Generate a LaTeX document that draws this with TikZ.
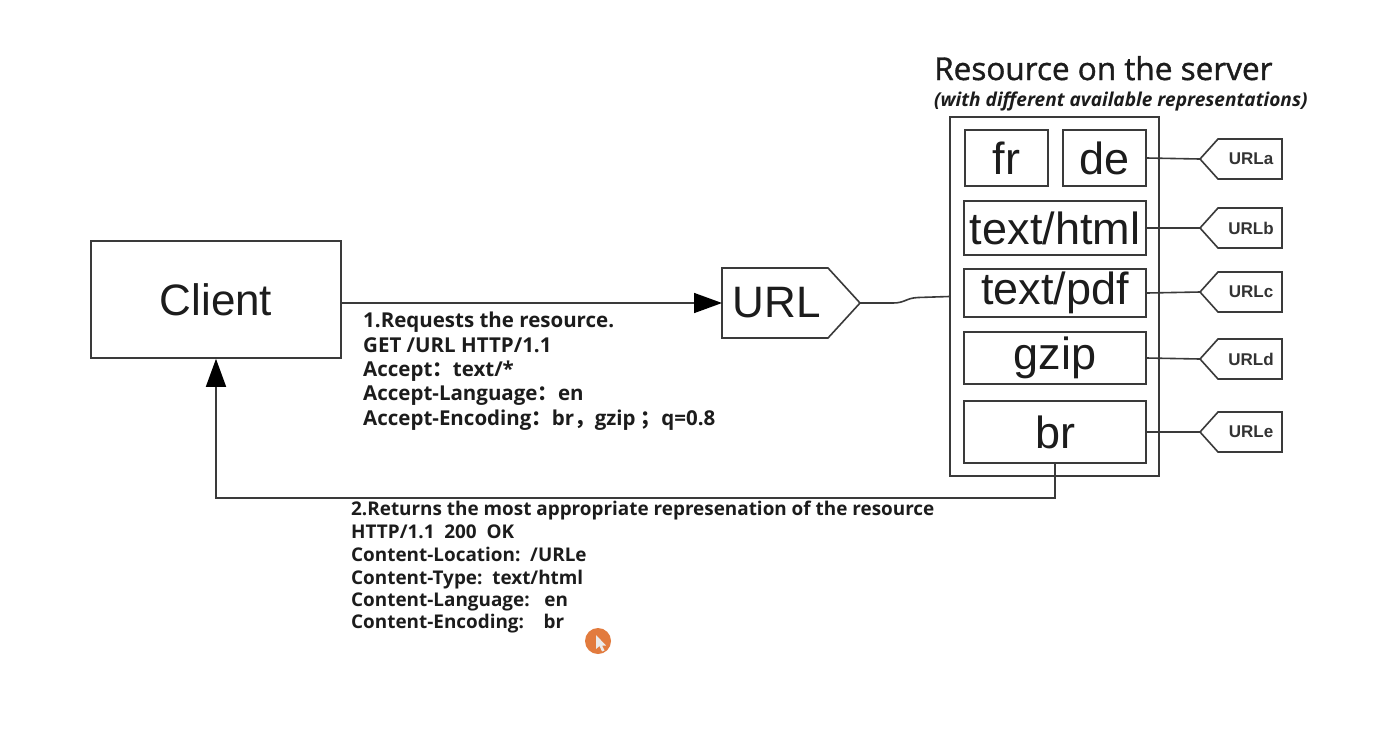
\documentclass[tikz,border=0pt]{standalone}
\usepackage{fontspec}
\setmainfont{Liberation Sans}
\newfontfamily\osans{Open Sans}
\newfontfamily\osanstitle[FakeBold=1.2]{Open Sans}
\newfontfamily\cjk{Noto Sans CJK SC}
\usetikzlibrary{arrows.meta}
\definecolor{linec}{HTML}{3A3A3A}
\definecolor{txt}{HTML}{1C1C1C}
\definecolor{tagc}{HTML}{333333}
\definecolor{dotc}{HTML}{E27B3E}
\begin{document}
\begin{tikzpicture}[x=1pt,y=-1pt,
  ln/.style={draw=linec, line width=1.6pt},
  box/.style={ln, rectangle, inner sep=0pt, font=\fontsize{45}{50}\selectfont, text=txt},
  arr/.style={ln, -{Triangle[length=28pt,width=20pt,color=black]}},
  req/.style={anchor=base west, inner sep=0pt, font=\osans\bfseries\fontsize{20.5}{24}\selectfont, text=txt},
  resp/.style={anchor=base west, inner sep=0pt, font=\osans\bfseries\fontsize{18.9}{22}\selectfont, text=txt},
  taglbl/.style={inner sep=0pt, font=\bfseries\fontsize{17}{20}\selectfont, text=tagc},
]
\useasboundingbox (0,0) rectangle (1386,740);
\fill[white] (0,0) rectangle (1386,740);

% client
\node[box, font=\fontsize{44}{48}\selectfont, minimum width=250pt, minimum height=117pt] (client) at (216,299.5) {Client};

% URL
\draw[ln] (722,268) -- (828,268) -- (860,303) -- (828,338) -- (722,338) -- cycle;
\node[inner sep=0pt, font=\fontsize{44}{48}\selectfont, text=txt] (url) at (777,303) {URL};
\coordinate (urlW) at (722,303);
\coordinate (urlE) at (860,303);

% server
\node[anchor=base west, inner sep=0pt, font=\osanstitle\fontsize{31.5}{34}\selectfont, text=txt] (title) at (934,80) {Resource on the server};
\node[anchor=base west, inner sep=0pt, font=\osans\bfseries\itshape\fontsize{19.1}{21}\selectfont, text=txt] (sub) at (934,106) {(with different available representations)};
\node[ln, rectangle, inner sep=0pt, minimum width=209pt, minimum height=359pt] (server) at (1054.5,296.5) {};
\node[box, minimum width=83pt, minimum height=56pt] (fr) at (1006.5,158) {fr};
\node[box, minimum width=83pt, minimum height=56pt] (de) at (1104.5,158) {de};
\node[box, minimum width=182pt, minimum height=54pt] (html) at (1055,228) {text/html};
\node[box, minimum width=182pt, minimum height=48pt] (pdf) at (1055,293) {text/pdf};
\node[box, minimum width=182pt, minimum height=52pt] (gzip) at (1055,358) {gzip};
\node[box, minimum width=182pt, minimum height=62pt] (br) at (1055,432) {br};

% tags
\foreach \n/\y/\t in {a/159/URLa, b/228/URLb, c/292/URLc, d/359/URLd, e/432/URLe} {
  \draw[ln] (1200,\y) -- (1218,\y-20) -- (1282,\y-20) -- (1282,\y+20) -- (1218,\y+20) -- cycle;
  \coordinate (tip\n) at (1200,\y);
  \node[taglbl] (tag\n) at (1251,\y) {\t};
}
\draw[ln] (de.east) -- (tipa);
\draw[ln] (html.east) -- (tipb);
\draw[ln] (pdf.east) -- (tipc);
\draw[ln] (gzip.east) -- (tipd);
\draw[ln] (br.east) -- (tipe);

% connectors
\draw[arr] (client.east |- urlW) -- (urlW);
\draw[ln] (urlE) -- (893,303) .. controls (905,303) and (906,298) .. (918,297.5) -- (server.west);
\draw[arr] (br.south) -- ++(0,34) -| (client.south);

% request text
\node[req] (r1) at (363,327) {1.Requests the resource.};
\node[req] (r2) at (363,352) {GET /URL HTTP/1.1};
\node[req] (r3) at (363,376) {Accept{\cjk ：}text/*};
\node[req] (r4) at (363,400) {Accept-Language{\cjk ：}en};
\node[req] (r5) at (363,425) {Accept-Encoding{\cjk ：}br{\cjk ，}gzip {\cjk ；}q=0.8};

% response text
\node[resp] (s1) at (351,515) {2.Returns the most appropriate represenation of the resource};
\node[resp] (s2) at (351,538) {HTTP/1.1\ \ 200\ \ OK};
\node[resp] (s3) at (351,561) {Content-Location:\ \ /URLe};
\node[resp] (s4) at (351,584) {Content-Type:\ \ text/html};
\node[resp] (s5) at (351,606) {Content-Language:\ \ \ en};
\node[resp] (s6) at (351,628) {Content-Encoding:\ \ \ \ br};

% cursor marker
\fill[dotc] (598,641) circle (13);
\fill[white!92!black] (596,635) -- (596,649) -- (599.5,646) -- (602,651.5) -- (604.5,650.5) -- (602,645.5) -- (606,645.5) -- cycle;
\end{tikzpicture}
\end{document}
